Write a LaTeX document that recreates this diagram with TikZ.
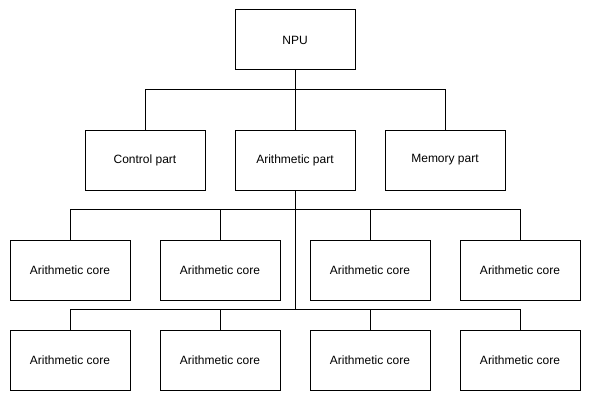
\documentclass[tikz,border=0pt]{standalone}
\usepackage{fontspec}
\setmainfont{Liberation Sans}
\begin{document}
\begin{tikzpicture}[x=1pt,y=-1pt,
    box/.style={draw,line width=1pt,minimum width=120pt,minimum height=60pt,
      inner sep=0pt,font=\fontsize{12}{14}\selectfont},
    wire/.style={line width=1pt}]
    \useasboundingbox (0,0) rectangle (591,401);
    \node[box] (npu) at (295,40) {NPU};
    \node[box] (ctrl) at (145,160) {Control part};
    \node[box] (arith) at (295,160) {Arithmetic part};
    \node[box] (mem) at (445,160) {Memory part};
    \foreach \i/\x in {1/70,2/220,3/370,4/520}{
      \node[box] (coreA\i) at (\x,270) {Arithmetic core};
      \node[box] (coreB\i) at (\x,360) {Arithmetic core};
    }
    % level 1
    \draw[wire] (npu) -- (arith);
    \draw[wire] (ctrl.north) -- ++(0,-40) -| (mem.north);
    % level 2
    \draw[wire] (arith.south) -- (arith.south |- 0,310) coordinate (trunk);
    \begin{scope}[wire]
      \draw (coreA1.north) -- ++(0,-30) -| (coreA4.north);
      \draw (coreA2.north) -- ++(0,-30);
      \draw (coreA3.north) -- ++(0,-30);
      \draw (coreB1.north) -- ++(0,-20) -| (coreB4.north);
      \draw (coreB2.north) -- ++(0,-20);
      \draw (coreB3.north) -- ++(0,-20);
    \end{scope}
  \end{tikzpicture}
\end{document}
